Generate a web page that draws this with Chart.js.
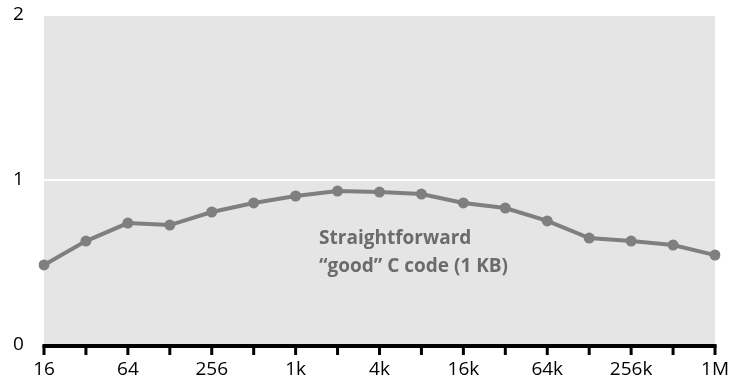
<!DOCTYPE html>
<html>
<head>
<meta charset="utf-8">
<script src="https://cdn.jsdelivr.net/npm/chart.js@4.4.1/dist/chart.umd.min.js"></script>
<style>
  html, body { margin: 0; padding: 0; background: #fff; }
  #wrap { width: 731px; height: 386px; }
</style>
</head>
<body>
<div id="wrap"><canvas id="chart"></canvas></div>
<script>
// sizes in bytes, 16 .. 1M
const sizes = ['16', '32', '64', '128', '256', '512', '1k', '2k', '4k', '8k', '16k', '32k', '64k', '128k', '256k', '512k', '1M'];
// relative performance
const perf = [0.485, 0.630, 0.739, 0.727, 0.806, 0.861, 0.903, 0.933, 0.927, 0.915, 0.861, 0.830, 0.752, 0.648, 0.630, 0.606, 0.545];
const yTicks = [0, 1, 2];
const note = ['Straightforward', '\u201cgood\u201d C code (1 KB)'];

const FONT = "'Open Sans', 'Noto Sans', sans-serif";

// gray plot background, black axis with tick marks, annotation
const plotBg = {
    id: 'plotBg',
    beforeDraw(chart) {
        const { ctx, chartArea: a } = chart;
        ctx.save();
        ctx.fillStyle = '#e5e5e5';
        ctx.fillRect(a.left, a.top, a.right - a.left, a.bottom - a.top);
        ctx.restore();
    },
    afterDraw(chart) {
        const { ctx, chartArea: a } = chart;
        const xs = chart.scales.x;
        ctx.save();
        ctx.strokeStyle = '#000';
        ctx.lineWidth = 4;
        ctx.beginPath();
        ctx.moveTo(a.left - 1.5, a.bottom + 1);
        ctx.lineTo(a.right + 1.5, a.bottom + 1);
        ctx.stroke();
        ctx.lineWidth = 3;
        sizes.forEach((s, i) => {
            const px = xs.getPixelForValue(i);
            ctx.beginPath();
            ctx.moveTo(px, a.bottom);
            ctx.lineTo(px, a.bottom + 10);
            ctx.stroke();
        });
        ctx.fillStyle = '#6b6b6b';
        ctx.font = 'bold 19px ' + FONT;
        ctx.textBaseline = 'middle';
        const x = a.left + (a.right - a.left) * 0.41;
        ctx.fillText(note[0], x, 239);
        ctx.fillText(note[1], x, 267);
        ctx.restore();
    }
};

new Chart(document.getElementById('chart'), {
    type: 'line',
    data: {
        labels: sizes,
        datasets: [{
            data: perf,
            borderColor: '#7f7f7f',
            backgroundColor: '#7f7f7f',
            borderWidth: 4,
            pointRadius: 5.5,
            pointBackgroundColor: '#7f7f7f',
            pointBorderWidth: 0,
            tension: 0,
            fill: false
        }]
    },
    options: {
        responsive: true,
        maintainAspectRatio: false,
        animation: false,
        layout: { padding: { top: 15, right: 16, left: 13, bottom: 0 } },
        plugins: { legend: { display: false }, tooltip: { enabled: false } },
        scales: {
            x: {
                type: 'category',
                offset: false,
                border: { display: false },
                // invisible ticks, just to push the labels down
                grid: { display: true, drawOnChartArea: false, drawTicks: true, tickLength: 13, tickColor: 'rgba(0,0,0,0)' },
                ticks: {
                    autoSkip: false,
                    maxRotation: 0,
                    padding: 0,
                    color: '#000',
                    font: { family: FONT, size: 19 },
                    callback: (v, i) => (i % 2 === 0 ? sizes[i] : '')
                },
                afterFit: s => { s.height = 41; }
            },
            y: {
                min: 0,
                max: 2,
                afterBuildTicks: s => { s.ticks = yTicks.map(v => ({ value: v })); },
                border: { display: false },
                grid: { color: '#ffffff', lineWidth: 2, drawTicks: false },
                ticks: {
                    padding: 0,
                    crossAlign: 'far',
                    color: '#000',
                    font: { family: FONT, size: 19 }
                },
                afterFit: s => { s.width = 31; }
            }
        }
    },
    plugins: [plotBg]
});
</script>
</body>
</html>
